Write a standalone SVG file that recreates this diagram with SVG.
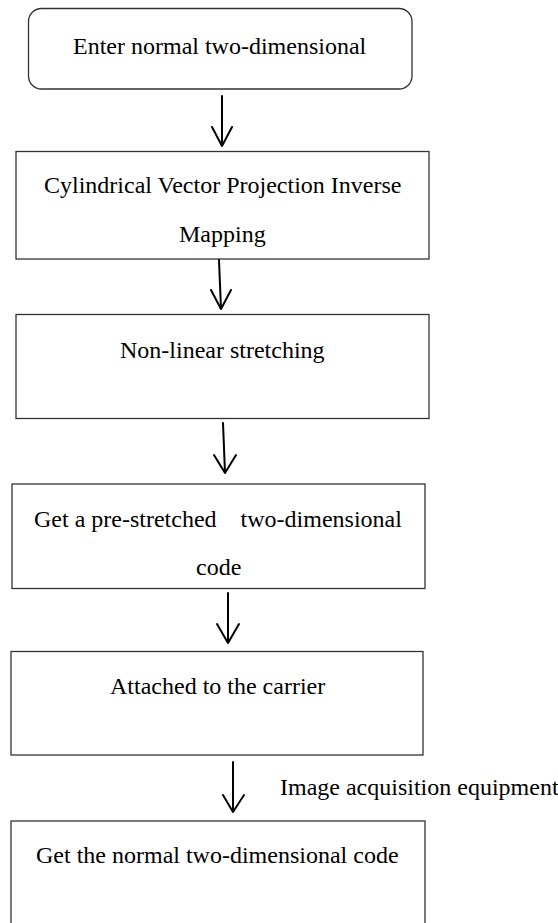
<svg xmlns="http://www.w3.org/2000/svg" width="558" height="923" viewBox="0 0 558 923">
<style>
.box{fill:#fff;stroke:#333;stroke-width:1.3}
.t{font-family:"Liberation Serif","Times New Roman",serif;font-size:24px;fill:#000;white-space:pre}
.arr{fill:none;stroke:#000;stroke-width:2;stroke-linecap:round;stroke-linejoin:round}
</style>
<rect width="558" height="923" fill="#fff"/>
<g id="n1">
<rect class="box" x="28.5" y="8.5" width="383.5" height="80.5" rx="13"/>
<text class="t" x="73" y="54">Enter normal two-dimensional</text>
</g>
<g id="n2">
<rect class="box" x="16" y="151.5" width="413" height="107.5"/>
<text class="t" x="44" y="193">Cylindrical Vector Projection Inverse</text>
<text class="t" x="179" y="242">Mapping</text>
</g>
<g id="n3">
<rect class="box" x="16" y="314.5" width="413" height="104"/>
<text class="t" x="120" y="358">Non-linear stretching</text>
</g>
<g id="n4">
<rect class="box" x="12" y="484" width="413" height="104.5"/>
<text class="t" x="34" y="527">Get a pre-stretched    two-dimensional</text>
<text class="t" x="196" y="575">code</text>
</g>
<g id="n5">
<rect class="box" x="11" y="651.5" width="412" height="103.5"/>
<text class="t" x="110" y="694">Attached to the carrier</text>
</g>
<g id="n6">
<rect class="box" x="11" y="821" width="414" height="110"/>
<text class="t" x="36" y="863">Get the normal two-dimensional code</text>
</g>
<g id="connectors">
<path class="arr" d="M222 96 L222 146 M212 127 L222 146 L232 127"/>
<path class="arr" d="M219 260 L221 309 M211 290 L221 309 L231 290"/>
<path class="arr" d="M223 423 L225 473 M214 455 L225 473 L236 455"/>
<path class="arr" d="M228 593 L228 643 M217 624 L228 643 L239 624"/>
<path class="arr" d="M233 762 L233 812 M223 795 L233 812 L244 795"/>
<text class="t" x="280" y="795">Image acquisition equipment</text>
</g>
</svg>
